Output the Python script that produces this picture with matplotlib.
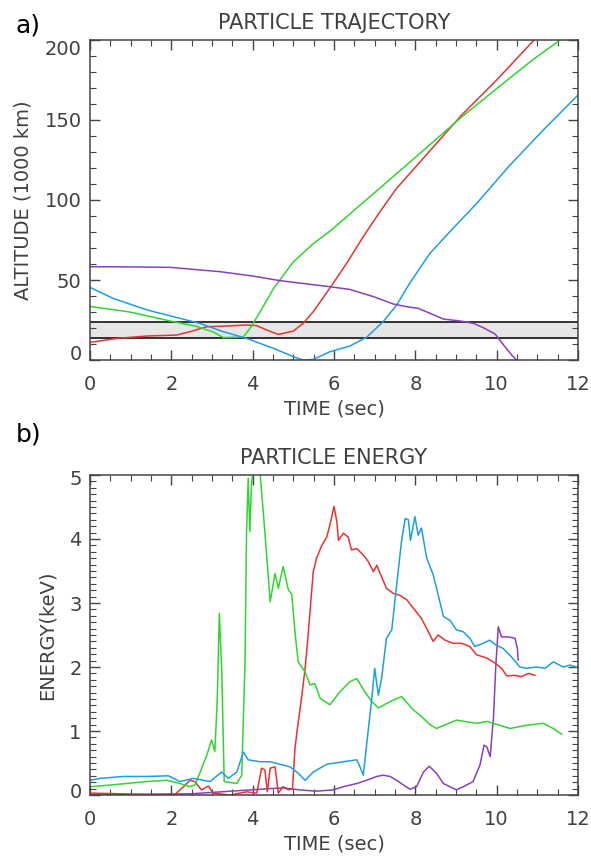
import matplotlib
matplotlib.use("Agg")
import matplotlib.pyplot as plt
from matplotlib.ticker import MultipleLocator
from matplotlib.transforms import ScaledTranslation

# ---- panel a) particle trajectory: time (s) vs altitude (1000 km)
purple_t = [0, 1.0, 1.97, 3.2, 4.0, 4.67, 5.9, 6.39, 6.97, 7.46, 7.79, 8.07, 8.36, 8.69,
            9.1, 9.43, 9.67, 9.96, 10.17, 10.37, 10.49]
purple_v = [58.3, 58.2, 57.9, 55.2, 52.5, 49.6, 45.8, 44.1, 39.6, 35.0, 33.3, 32.3, 29.2,
            25.6, 24.4, 22.9, 20.2, 16.3, 9.4, 3.1, 0]

blue_t = [0, 0.57, 1.4, 2.05, 2.7, 3.28, 3.85, 4.51, 5.0, 5.24, 5.49, 5.9, 6.39, 6.8,
          7.21, 7.54, 7.87, 8.36, 8.85, 9.51, 10.33, 11.15, 12.0]
blue_v = [45.4, 38.5, 31.3, 27.1, 22.9, 17.7, 13.5, 7.3, 2.1, 0, 0.4, 5.2, 8.75, 14.2,
          24.0, 34.4, 48.3, 66.7, 80.2, 97.9, 121.9, 143.8, 165.6]

green_t = [0, 0.98, 1.97, 2.62, 3.03, 3.28, 3.77, 3.93, 4.18, 4.51, 5.0, 5.49, 5.9,
           6.72, 7.54, 8.36, 9.14, 10.0, 10.82, 11.56]
green_v = [33.5, 30.0, 24.4, 21.0, 17.5, 14.0, 14.4, 19.6, 30.0, 44.6, 61.3, 72.7, 80.5,
           98.5, 116.5, 134.6, 151.9, 169.6, 186.3, 200]

red_t = [0, 0.66, 1.4, 2.13, 2.46, 2.87, 3.44, 3.85, 4.1, 4.34, 4.63, 5.0, 5.24, 5.49,
         5.9, 6.31, 6.72, 7.13, 7.54, 8.36, 9.14, 10.0, 10.92]
red_v = [11.0, 13.5, 15.0, 15.6, 17.7, 20.8, 21.3, 21.9, 21.5, 18.8, 16.0, 18.1, 22.9,
         30.2, 45.0, 60.4, 77.1, 92.7, 107.3, 130.8, 153.1, 175.0, 200]

band_low, band_high = 14.0, 24.0

# ---- panel b) particle energy: time (s) vs energy (keV)
e_green_t = [0, 0.57, 1.39, 1.89, 2.21, 2.46, 2.58, 2.7, 2.87, 2.99, 3.07, 3.13, 3.18,
             3.24, 3.3, 3.61, 3.73, 3.81, 3.85, 3.89, 3.93, 3.97, 4.02, 4.16, 4.3, 4.43,
             4.55, 4.63, 4.75, 4.88, 4.96, 5.04, 5.12, 5.29, 5.41, 5.53, 5.66, 5.9, 6.14,
             6.39, 6.56, 6.76, 6.93, 7.09, 7.38, 7.66, 7.95, 8.11, 8.36, 8.52, 9.01, 9.51,
             9.76, 10.33, 10.74, 11.15, 11.39, 11.6]
e_green_v = [0.13, 0.16, 0.21, 0.23, 0.18, 0.13, 0.16, 0.34, 0.62, 0.86, 0.68, 1.51, 2.84,
             1.93, 0.21, 0.18, 0.31, 2.03, 4.12, 4.95, 4.12, 4.84, 5.2, 5.2, 4.11, 3.02,
             3.46, 3.23, 3.57, 3.2, 3.14, 2.55, 2.08, 1.92, 1.72, 1.74, 1.51, 1.41, 1.61,
             1.77, 1.82, 1.61, 1.46, 1.36, 1.46, 1.54, 1.33, 1.25, 1.1, 1.04, 1.17, 1.12,
             1.15, 1.04, 1.09, 1.12, 1.04, 0.95]

e_blue_t = [0, 0.25, 0.82, 1.39, 1.93, 2.21, 2.54, 2.95, 3.24, 3.4, 3.61, 3.77, 3.89,
            4.18, 4.43, 4.92, 5.12, 5.29, 5.49, 5.82, 6.23, 6.56, 6.64, 6.72, 6.84, 6.93,
            7.0, 7.09, 7.17, 7.29, 7.42, 7.54, 7.66, 7.75, 7.83, 7.88, 7.99, 8.07, 8.15,
            8.28, 8.44, 8.56, 8.69, 8.85, 9.01, 9.18, 9.34, 9.46, 9.67, 9.83, 9.99, 10.16,
            10.36, 10.57, 10.74, 10.98, 11.19, 11.39, 11.64, 11.8, 11.97]
e_blue_v = [0.23, 0.26, 0.29, 0.29, 0.30, 0.21, 0.26, 0.21, 0.36, 0.26, 0.36, 0.67, 0.55,
            0.52, 0.52, 0.44, 0.34, 0.23, 0.36, 0.48, 0.52, 0.55, 0.44, 0.31, 1.0, 1.51,
            1.98, 1.56, 1.82, 2.45, 2.58, 3.28, 3.96, 4.32, 4.3, 3.98, 4.35, 4.06, 4.17,
            3.7, 3.44, 3.13, 2.79, 2.73, 2.58, 2.55, 2.45, 2.32, 2.37, 2.42, 2.34, 2.29,
            2.16, 2.0, 1.98, 2.0, 1.98, 2.08, 2.0, 2.03, 2.0]

e_red_t = [0, 1.39, 2.09, 2.3, 2.46, 2.58, 2.74, 2.91, 3.03, 3.44, 3.85, 4.1, 4.22, 4.3,
           4.36, 4.43, 4.55, 4.63, 4.75, 4.88, 4.98, 5.04, 5.1, 5.2, 5.29, 5.37, 5.45,
           5.49, 5.57, 5.7, 5.82, 5.9, 6.0, 6.07, 6.11, 6.23, 6.35, 6.43, 6.56, 6.72,
           6.84, 6.97, 7.05, 7.17, 7.29, 7.46, 7.62, 7.79, 7.95, 8.15, 8.28, 8.44, 8.56,
           8.73, 8.93, 9.14, 9.34, 9.51, 9.76, 9.96, 10.12, 10.25, 10.45, 10.61, 10.78, 10.94]
e_red_v = [0.03, 0.01, 0.01, 0.13, 0.23, 0.21, 0.08, 0.14, 0.03, 0.0, 0.05, 0.03, 0.42,
           0.39, 0.05, 0.42, 0.44, 0.03, 0.13, 0.08, 0.10, 0.73, 1.04, 1.51, 1.98, 2.55,
           3.18, 3.49, 3.7, 3.9, 4.03, 4.22, 4.51, 4.27, 3.98, 4.09, 4.03, 3.83, 3.85,
           3.75, 3.65, 3.49, 3.59, 3.41, 3.23, 3.15, 3.12, 3.05, 2.92, 2.76, 2.6, 2.4,
           2.5, 2.42, 2.37, 2.37, 2.32, 2.19, 2.14, 2.06, 1.98, 1.86, 1.87, 1.85, 1.90, 1.87]

e_purple_t = [0, 2.5, 3.7, 4.43, 4.75, 5.16, 5.57, 5.98, 6.23, 6.56, 6.8, 7.05, 7.21,
              7.38, 7.54, 7.7, 7.87, 8.03, 8.2, 8.34, 8.52, 8.69, 8.85, 9.01, 9.18, 9.42,
              9.59, 9.69, 9.76, 9.84, 9.92, 9.98, 10.04, 10.12, 10.29, 10.45, 10.51, 10.53]
e_purple_v = [0.0, 0.02, 0.07, 0.1, 0.11, 0.08, 0.06, 0.08, 0.13, 0.18, 0.23, 0.29, 0.31,
              0.29, 0.23, 0.16, 0.09, 0.13, 0.36, 0.45, 0.34, 0.18, 0.13, 0.08, 0.13, 0.21,
              0.47, 0.78, 0.75, 0.6, 1.2, 2.03, 2.63, 2.47, 2.47, 2.45, 2.29, 2.11]

RED, GREEN, BLUE, PURPLE = "#e8332f", "#2fd62f", "#1e9ee3", "#8a3fbf"
TXT = "#404040"

plt.rcParams["font.family"] = "DejaVu Sans"
fig = plt.figure(figsize=(5.91, 8.58), dpi=100)
ax1 = fig.add_axes([0.1523, 0.5804, 0.8257, 0.3730])
ax2 = fig.add_axes([0.1523, 0.0734, 0.8257, 0.3730])


def style(ax, ymaj, ymin):
    ax.set_xlim(0, 12)
    ax.xaxis.set_major_locator(MultipleLocator(2))
    ax.xaxis.set_minor_locator(MultipleLocator(0.5))
    ax.yaxis.set_major_locator(MultipleLocator(ymaj))
    ax.yaxis.set_minor_locator(MultipleLocator(ymin))
    ax.tick_params(which="both", direction="in", top=True, right=True,
                   color="#444444", labelcolor=TXT, labelsize=14)
    ax.tick_params(which="major", length=7.5, width=1.0)
    ax.tick_params(which="minor", length=4, width=0.8)
    ax.tick_params(axis="x", pad=10.5)
    ax.tick_params(axis="y", pad=6)
    for s in ax.spines.values():
        s.set_color("#444444")
        s.set_linewidth(1.1)


# panel a
ax1.axhspan(band_low, band_high, color="#e6e6e6", zorder=0)
ax1.axhline(band_low, color="black", lw=1.1, zorder=1)
ax1.axhline(band_high, color="black", lw=1.1, zorder=1)
ax1.plot(red_t, red_v, color=RED, lw=1.1)
ax1.plot(green_t, green_v, color=GREEN, lw=1.1)
ax1.plot(blue_t, blue_v, color=BLUE, lw=1.1)
ax1.plot(purple_t, purple_v, color=PURPLE, lw=1.1)
ax1.set_ylim(0, 200)
style(ax1, 50, 10)
ax1.set_title("PARTICLE TRAJECTORY", fontsize=15, color=TXT, pad=8)
ax1.set_xlabel("TIME (sec)", fontsize=14, color=TXT, labelpad=4)
ax1.set_ylabel("ALTITUDE (1000 km)", fontsize=14, color=TXT, labelpad=9)

# panel b
ax2.plot(e_purple_t, e_purple_v, color=PURPLE, lw=1.1)
ax2.plot(e_red_t, e_red_v, color=RED, lw=1.1)
ax2.plot(e_green_t, e_green_v, color=GREEN, lw=1.1)
ax2.plot(e_blue_t, e_blue_v, color=BLUE, lw=1.1)
ax2.set_ylim(0, 5)
style(ax2, 1, 0.1)
ax2.set_title("PARTICLE ENERGY", fontsize=15, color=TXT, pad=8)
ax2.set_xlabel("TIME (sec)", fontsize=14, color=TXT, labelpad=4)
ax2.set_ylabel("ENERGY(keV)", fontsize=14, color=TXT, labelpad=9)

fig.text(0.027, 0.984, "a)", fontsize=18, color="black", va="top", ha="left")
fig.text(0.027, 0.508, "b)", fontsize=18, color="black", va="top", ha="left")

# the end labels of the y axes sit a little inside the axis range, as in the original
fig.canvas.draw()
for ax, shifts in ((ax1, {0: 8, 200: -8}), (ax2, {0: 5, 5: -3})):
    for tick in ax.yaxis.get_major_ticks():
        for val, dy in shifts.items():
            if abs(tick.get_loc() - val) < 1e-6:
                lab = tick.label1
                lab.set_transform(lab.get_transform()
                                  + ScaledTranslation(0, dy / 100, fig.dpi_scale_trans))

fig.savefig("out.png", dpi=100)
